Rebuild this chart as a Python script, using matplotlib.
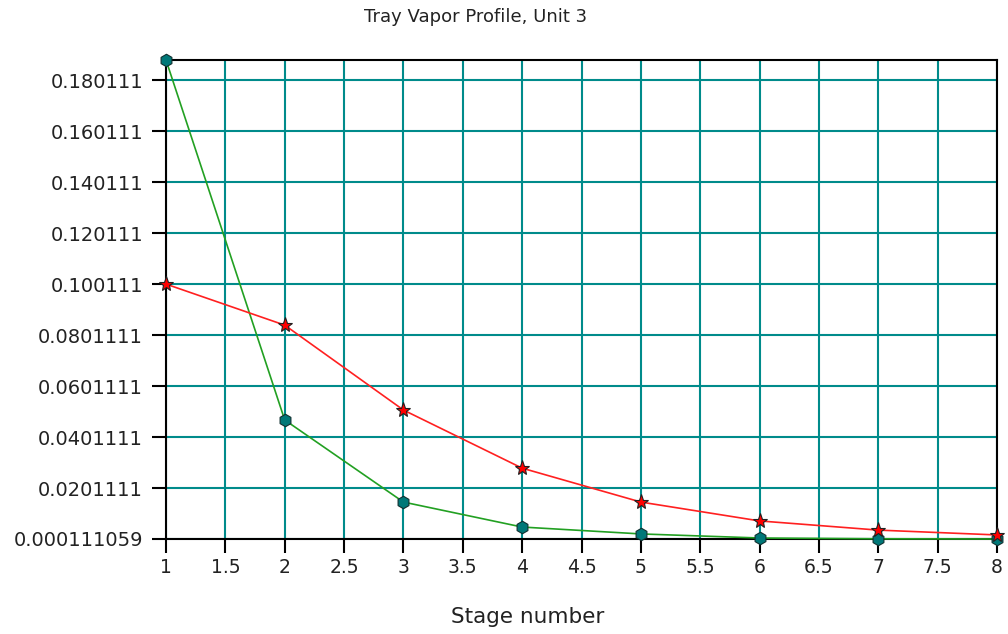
import matplotlib
matplotlib.use("Agg")
import matplotlib.pyplot as plt
import numpy as np

stages = [1, 2, 3, 4, 5, 6, 7, 8]
red_vals = [0.1001, 0.0840, 0.0507, 0.0279, 0.0146, 0.0072, 0.0036, 0.0017]
green_vals = [0.1880, 0.0468, 0.0146, 0.0048, 0.0021, 0.0005, 0.0002, 0.000111]

ytick_vals = [0.000111059, 0.0201111, 0.0401111, 0.0601111, 0.0801111,
              0.100111, 0.120111, 0.140111, 0.160111, 0.180111]
ytick_labels = ["0.000111059", "0.0201111", "0.0401111", "0.0601111", "0.0801111",
                "0.100111", "0.120111", "0.140111", "0.160111", "0.180111"]
xtick_vals = [1, 1.5, 2, 2.5, 3, 3.5, 4, 4.5, 5, 5.5, 6, 6.5, 7, 7.5, 8]
xtick_labels = ["1", "1.5", "2", "2.5", "3", "3.5", "4", "4.5", "5", "5.5",
                "6", "6.5", "7", "7.5", "8"]

plt.rcParams['font.family'] = ['DejaVu Sans']

fig = plt.figure(figsize=(10.08, 6.34), dpi=100)
ax = fig.add_axes([166 / 1008, 1 - 539 / 634, (997 - 166) / 1008, (539 - 60) / 634])

ax.plot(stages, green_vals, color="#22a022", lw=1.2, marker="h", markersize=9,
        markerfacecolor="#007878", markeredgecolor="#103030", markeredgewidth=0.8,
        clip_on=False, zorder=3)
ax.plot(stages, red_vals, color="#ff2020", lw=1.2, marker="*", markersize=11,
        markerfacecolor="#ff0000", markeredgecolor="#202020", markeredgewidth=0.8,
        clip_on=False, zorder=4)

ax.set_xlim(1, 8)
ax.set_ylim(0.000111059, 0.1880)
ax.set_xticks(xtick_vals)
ax.set_xticklabels(xtick_labels, fontsize=13.5, color="#222222")
ax.set_yticks(ytick_vals)
ax.set_yticklabels(ytick_labels, fontsize=14, color="#222222")
ax.tick_params(direction="out", length=10, width=1.5, color="black")
ax.tick_params(axis="x", pad=4)
ax.tick_params(axis="y", pad=6.5)
ax.grid(True, color="#008b8b", lw=1.5)
ax.set_axisbelow(True)
for s in ax.spines.values():
    s.set_color("black")
    s.set_linewidth(1.5)

fig.text(476 / 1008, 1 - 17 / 634, "Tray Vapor Profile, Unit 3", ha="center", va="center",
         fontsize=13, color="#222222")
fig.text(528 / 1008, 1 - 617 / 634, "Stage number", ha="center", va="center",
         fontsize=15.5, color="#222222")

fig.savefig("out.png", dpi=100)
